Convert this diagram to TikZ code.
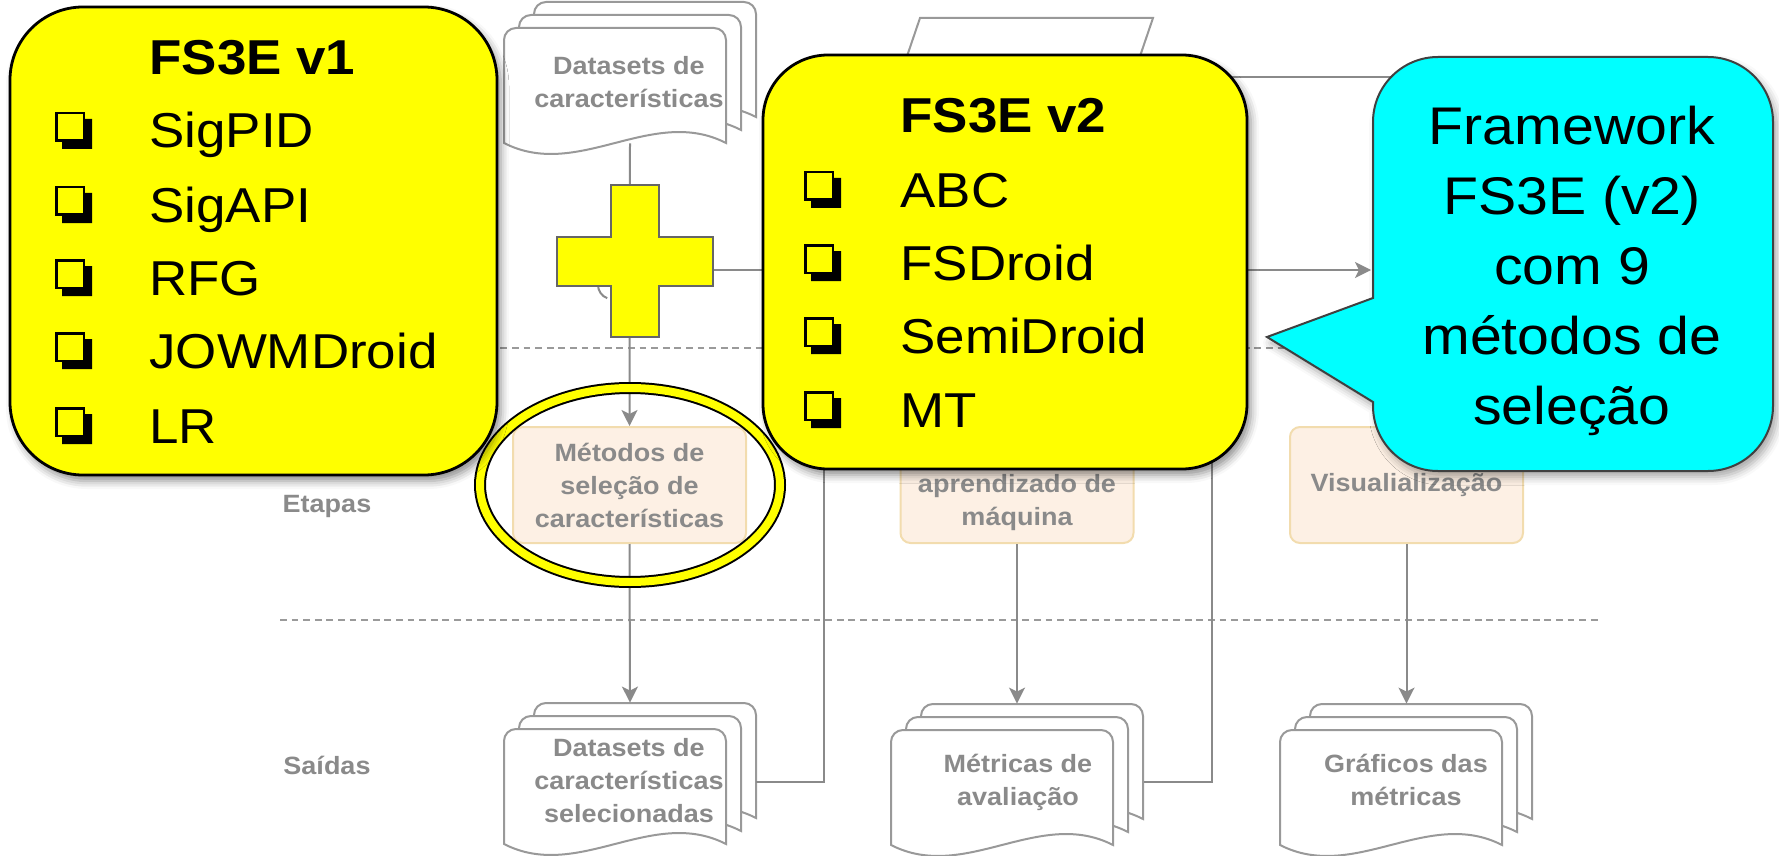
\documentclass[tikz,border=0pt]{standalone}
\usepackage{fontspec}
\setmainfont{Liberation Sans}[FakeStretch=1.08]
\usetikzlibrary{shadows.blur,arrows.meta,calc}
\definecolor{lineg}{HTML}{8A8A8A}
\definecolor{textg}{HTML}{8A8A8A}
\definecolor{docg}{HTML}{999999}
\definecolor{stfill}{HTML}{FDF0E4}
\definecolor{stdraw}{HTML}{F2DCAE}
\definecolor{dashg}{HTML}{9A9A9A}
\definecolor{cyanc}{HTML}{00FFFF}
\definecolor{yel}{HTML}{FFFF00}
\newcommand\docshape[2]{%
  \path[docsty] ({#1},{-(#2)-115}) -- ({#1},{-(#2)-12}) arc[start angle=180,end angle=90,radius=12]
    -- ({#1+210},{-(#2)}) arc[start angle=90,end angle=0,radius=12]
    -- ({#1+222},{-(#2)-115}) .. controls ({#1+148},{-(#2)-77}) and ({#1+74},{-(#2)-153}) .. ({#1},{-(#2)-115}) -- cycle;}
\newcommand\docstack[2]{\docshape{#1+30}{#2-26}\docshape{#1+15}{#2-13}\docshape{#1}{#2}}
\tikzset{
  docsty/.style={draw=docg, fill=white, line width=1pt},
  conn/.style={draw=lineg, line width=1pt},
  arr/.style={-{Stealth[length=8pt,width=8pt,inset=2pt]}},
  gfont/.style={font=\fontsize{12.5}{16.5}\selectfont\bfseries},
  gtext/.style={text=textg, gfont, align=center, inner sep=0pt},
  stagebox/.style={draw=stdraw, fill=stfill, line width=1pt, rounded corners=5pt,
    minimum width=116.5pt, minimum height=58pt, inner sep=0pt},
  frame/.style={minimum width=126pt, minimum height=70.5pt, inner sep=0pt},
  sep/.style={draw=dashg, line width=0.8pt, dash pattern=on 3.4pt off 2.4pt},
  bigbox/.style={draw=black, fill=yel, line width=1.4pt,
    blur shadow={shadow xshift=2pt, shadow yshift=-3pt, shadow blur radius=4pt, shadow opacity=45}},
  item/.style={anchor=base west, inner sep=0pt, font=\fontsize{24.5}{30}\selectfont},
  ititle/.style={anchor=base west, inner sep=0pt, font=\fontsize{24.5}{30}\selectfont\bfseries},
  cbox/.pic={
    \fill[black] (30,30) -- (37,30) -- (37,0) -- (7,0) -- (7,7) -- (30,7) -- cycle;
    \draw[black, line width=1.25pt] (1.25,8.25) rectangle (28.75,35.75);
  },
}
\begin{document}
\begin{tikzpicture}[x=0.5pt,y=0.5pt]
\useasboundingbox (0,0) rectangle (1779,-856);
% ---- background flow chart ----
\draw[sep] (280,-348) -- (1600,-348);
\draw[sep] (280,-620) -- (1600,-620);
\node[gtext, anchor=base] (etapas) at (327,-512) {Etapas};
\node[gtext, anchor=base] (saidas) at (327,-774) {Saídas};
% input parallelogram (mostly hidden)
\path[docsty] (920,-18) -- (1153,-18) -- (1119,-118) -- (886,-118) -- cycle;
\coordinate (parR) at (1133,-77);
% stacks
\docstack{504}{28}
\docstack{504}{729}
\docstack{891}{730}
\docstack{1280}{730}
\node[frame] (dsin) at (630,-72.5) {};
\node[frame] (dsout) at (630,-773.5) {};
\node[frame] (mets) at (1018,-774.5) {};
\node[frame] (grafs) at (1407,-774.5) {};
\node[gtext] (dsintxt) at (629,-81.75) {Datasets de\\características};
\node[gtext] (dsouttxt) at (629,-781) {Datasets de\\características\\selecionadas};
\node[gtext] (metstxt) at (1018,-782) {Métricas de\\avaliação};
\node[gtext] (grafstxt) at (1406,-780) {Gráficos das\\métricas};
% stage boxes
\node[stagebox, text=textg, gfont, align=center] (metodos) at (629.5,-485) {Métodos de\\seleção de\\características};
\node[stagebox] (ml) at (1017,-485) {};
\node[gtext] (mltxt) at (1017,-503) {aprendizado de\\máquina};
\node[stagebox, text=textg, gfont] (vis) at (1406.5,-485) {Visualialização};
% connectors
\coordinate (branch) at (629,-270);
\coordinate (cin) at (1371,-270);
\coordinate (hidC) at (824,-300);
\coordinate (hidD) at (1212,-300);
\draw[conn, arr] (dsin.south) -- (metodos.north);
\draw[conn, arr] (branch) -- (cin);
\draw[conn] (598,-285) arc[start angle=180, end angle=250, radius=14];
\draw[conn, arr] (metodos.south) -- (dsout.north);
\draw[conn, arr] (ml.south) -- (ml.south |- mets.north);
\draw[conn, arr] (vis.south) -- (vis.south |- grafs.north);
\draw[conn] ([yshift=-4.25pt]dsout.east) -| (hidC);
\draw[conn] ([yshift=-3.75pt]mets.east) -| (hidD);
\draw[conn, arr] (parR) -| (vis.north);
% highlight ellipse
\draw[line width=1pt, draw=black, double=yel, double distance=4pt] (630,-485) ellipse [x radius=150, y radius=97];
% plus sign
\path[fill=yel, draw=black!60, line width=0.9pt] (611,-185) -- (659,-185) -- (659,-237) -- (713,-237) -- (713,-286) -- (659,-286) -- (659,-337) -- (611,-337) -- (611,-286) -- (557,-286) -- (557,-237) -- (611,-237) -- cycle;
% ---- overlay boxes ----
\node[bigbox, rounded corners=36.5pt, minimum width=243.5pt, minimum height=234pt, inner sep=0pt] (v1) at (253.5,-241) {};
\node[ititle] (v1t) at (149,-75) {FS3E v1};
\foreach \yy/\nm/\tx in {148/v1a/SigPID, 222/v1b/SigAPI, 295/v1c/RFG, 368/v1d/JOWMDroid, 443/v1e/LR}{
  \pic at (55,-\yy-1) {cbox};
  \node[item] (\nm) at (149,-\yy) {\tx};
}
\node[bigbox, rounded corners=32.5pt, minimum width=242pt, minimum height=207pt, inner sep=0pt] (v2) at (1005,-262) {};
\node[ititle] (v2t) at (900,-133) {FS3E v2};
\foreach \yy/\nm/\tx in {207/v2a/ABC, 280/v2b/FSDroid, 353/v2c/SemiDroid, 427/v2d/MT}{
  \pic at (804,-\yy-1) {cbox};
  \node[item] (\nm) at (900,-\yy) {\tx};
}
% callout
\path[fill=cyanc, draw=black!75, line width=1pt,
  blur shadow={shadow xshift=2pt, shadow yshift=-3pt, shadow blur radius=4pt, shadow opacity=35}]
  (1373,-298) -- (1267,-337) -- (1373,-402) -- (1373,-406) arc[start angle=180,end angle=270,radius=65]
  -- (1708,-471) arc[start angle=270,end angle=360,radius=65]
  -- (1773,-122) arc[start angle=0,end angle=90,radius=65]
  -- (1438,-57) arc[start angle=90,end angle=180,radius=65] -- cycle;
\node[align=center, inner sep=0pt, font=\fontsize{26.5}{35}\selectfont] (callout) at (1572,-271) {Framework\\FS3E (v2)\\com 9\\métodos de\\seleção};
\end{tikzpicture}
\end{document}
